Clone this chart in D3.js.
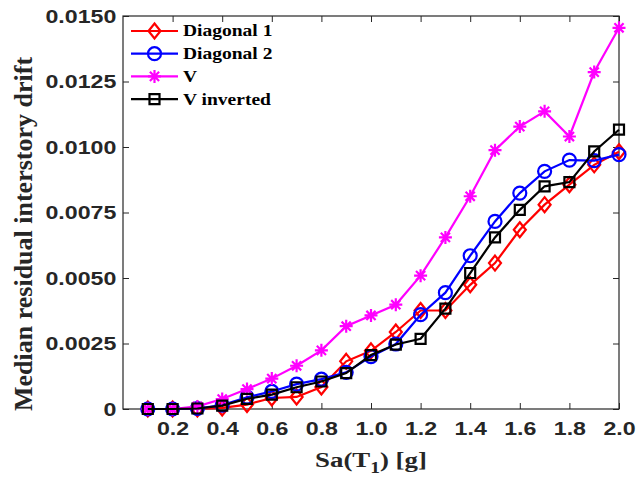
<!DOCTYPE html>
<html>
<head>
<meta charset="utf-8">
<script src="https://cdn.jsdelivr.net/npm/d3@7"></script>
<style>
  body { margin: 0; background: #fff; }
  svg { font-family: "Liberation Serif", "Times New Roman", serif; font-weight: bold; }
</style>
</head>
<body>
<svg id="chart" width="641" height="480"></svg>
<script>
'use strict';

const sa = [0.1, 0.2, 0.3, 0.4, 0.5, 0.6, 0.7, 0.8, 0.9, 1.0, 1.1, 1.2, 1.3, 1.4, 1.5, 1.6, 1.7, 1.8, 1.9, 2.0];

const diagonal1 = [0, 0, 0, 0.00004, 0.00017, 0.00042, 0.00046, 0.00084, 0.00182, 0.00222, 0.00294, 0.00376, 0.00376, 0.00474, 0.00557, 0.00684, 0.0078, 0.00856, 0.00932, 0.00982];
const diagonal2 = [0, 0, 0.00002, 0.00015, 0.00045, 0.00067, 0.00095, 0.00114, 0.0014, 0.002, 0.00248, 0.0036, 0.00444, 0.00585, 0.00716, 0.00824, 0.00907, 0.0095, 0.00948, 0.00971];
const vShape = [0, 0, 0.0001, 0.00038, 0.00076, 0.00116, 0.00165, 0.00224, 0.00316, 0.00357, 0.00398, 0.00509, 0.00655, 0.00812, 0.00988, 0.01078, 0.01136, 0.0104, 0.01286, 0.01455];
const vInverted = [0, 0, 0.00002, 0.00013, 0.00039, 0.00055, 0.00083, 0.00105, 0.00137, 0.00206, 0.00246, 0.00268, 0.00383, 0.00519, 0.00655, 0.0076, 0.0085, 0.00866, 0.00983, 0.01066];

const xTicks = [0.2, 0.4, 0.6, 0.8, 1.0, 1.2, 1.4, 1.6, 1.8, 2.0];
const yTicks = [0, 0.0025, 0.005, 0.0075, 0.01, 0.0125, 0.015];

const seriesNames = ["Diagonal 1", "Diagonal 2", "V", "V inverted"];
const seriesColors = ["#ff0000", "#0000ff", "#ff00ff", "#000000"];
const seriesMarkers = ["diamond", "circle", "asterisk", "square"];
const seriesValues = [diagonal1, diagonal2, vShape, vInverted];

const svg = d3.select("#chart"),
    margin = { top: 16, right: 22, bottom: 71, left: 123 },
    width = +svg.attr("width") - margin.left - margin.right,
    height = +svg.attr("height") - margin.top - margin.bottom;

const x = d3.scaleLinear().domain([0, 2]).range([0, width]),
    y = d3.scaleLinear().domain([0, 0.015]).range([height, 0]);

const g = svg.append("g").attr("transform", `translate(${margin.left},${margin.top})`);

const axisColor = "#262626";
const tickLen = 6;
const stretch = "scale(1.22,1)"; // the reference text is a bit wide

const styleAxis = sel => {
    sel.select(".domain").remove();
    sel.selectAll(".tick line").attr("stroke", axisColor);
    sel.selectAll(".tick text").attr("fill", axisColor)
        .style("font-size", "19px").style("font-weight", "bold")
        .attr("transform", stretch);
};

g.append("g")
    .attr("transform", `translate(0,${height})`)
    .call(d3.axisBottom(x).tickValues(xTicks).tickSizeInner(-tickLen).tickSizeOuter(0).tickPadding(13).tickFormat(d3.format(".1f")))
    .call(styleAxis);

g.append("g")
    .call(d3.axisTop(x).tickValues(xTicks).tickSizeInner(-tickLen).tickSizeOuter(0).tickFormat(""))
    .call(styleAxis);

g.append("g")
    .call(d3.axisLeft(y).tickValues(yTicks).tickSizeInner(-tickLen).tickSizeOuter(0).tickPadding(5.5)
        .tickFormat(d => d === 0 ? "0" : d3.format(".4f")(d)))
    .call(styleAxis);

g.append("g")
    .attr("transform", `translate(${width},0)`)
    .call(d3.axisRight(y).tickValues(yTicks).tickSizeInner(-tickLen).tickSizeOuter(0).tickFormat(""))
    .call(styleAxis);

g.append("rect")
    .attr("width", width).attr("height", height)
    .attr("fill", "none").attr("stroke", axisColor).attr("stroke-width", 1.2);

const markerPath = (type) => {
    switch (type) {
        case "diamond": return "M0,-7.5L6,0L0,7.5L-6,0Z";
        case "circle": return d3.arc()({ innerRadius: 0, outerRadius: 6.5, startAngle: 0, endAngle: 2 * Math.PI });
        case "square": return "M-5,-5H5V5H-5Z";
        case "asterisk": return "M-6.5,0H6.5M0,-6.5V6.5M-4.6,-4.6L4.6,4.6M-4.6,4.6L4.6,-4.6";
    }
};

const line = d3.line().x((d, i) => x(sa[i])).y(d => y(d));

seriesValues.forEach((vals, k) => {
    const sg = g.append("g");
    sg.append("path")
        .datum(vals)
        .attr("fill", "none")
        .attr("stroke", seriesColors[k])
        .attr("stroke-width", 2.2)
        .attr("d", line);
    sg.selectAll("path.marker")
        .data(vals)
        .join("path")
        .attr("class", "marker")
        .attr("transform", (d, i) => `translate(${x(sa[i])},${y(d)})`)
        .attr("d", markerPath(seriesMarkers[k]))
        .attr("fill", "none")
        .attr("stroke", seriesColors[k])
        .attr("stroke-width", 2.2);
});

// legend, no box
const legend = g.append("g").attr("transform", "translate(8,15)");
seriesNames.forEach((name, k) => {
    const row = legend.append("g").attr("transform", `translate(0,${k * 22.7})`);
    row.append("line").attr("x1", 0).attr("x2", 47).attr("y1", 0).attr("y2", 0)
        .attr("stroke", seriesColors[k]).attr("stroke-width", 2.2);
    row.append("path").attr("transform", "translate(23.5,0)")
        .attr("d", markerPath(seriesMarkers[k]))
        .attr("fill", "none").attr("stroke", seriesColors[k]).attr("stroke-width", 2.2);
    row.append("text").attr("transform", `translate(52,0) ${stretch}`).attr("dy", "0.34em")
        .style("font-size", "16px").attr("fill", "#000").text(name);
});

// axis titles
svg.append("text")
    .attr("transform", `translate(${margin.left + width / 2},467) ${stretch}`)
    .attr("text-anchor", "middle").style("font-size", "22px").attr("fill", axisColor)
    .html('Sa(T<tspan dy="6" font-size="16px">1</tspan><tspan dy="-6">) [g]</tspan>');

svg.append("text")
    .attr("transform", `translate(32,234) rotate(-90)`)
    .attr("text-anchor", "middle").style("font-size", "26px").attr("fill", axisColor)
    .text("Median residual interstory drift");
</script>
</body>
</html>
